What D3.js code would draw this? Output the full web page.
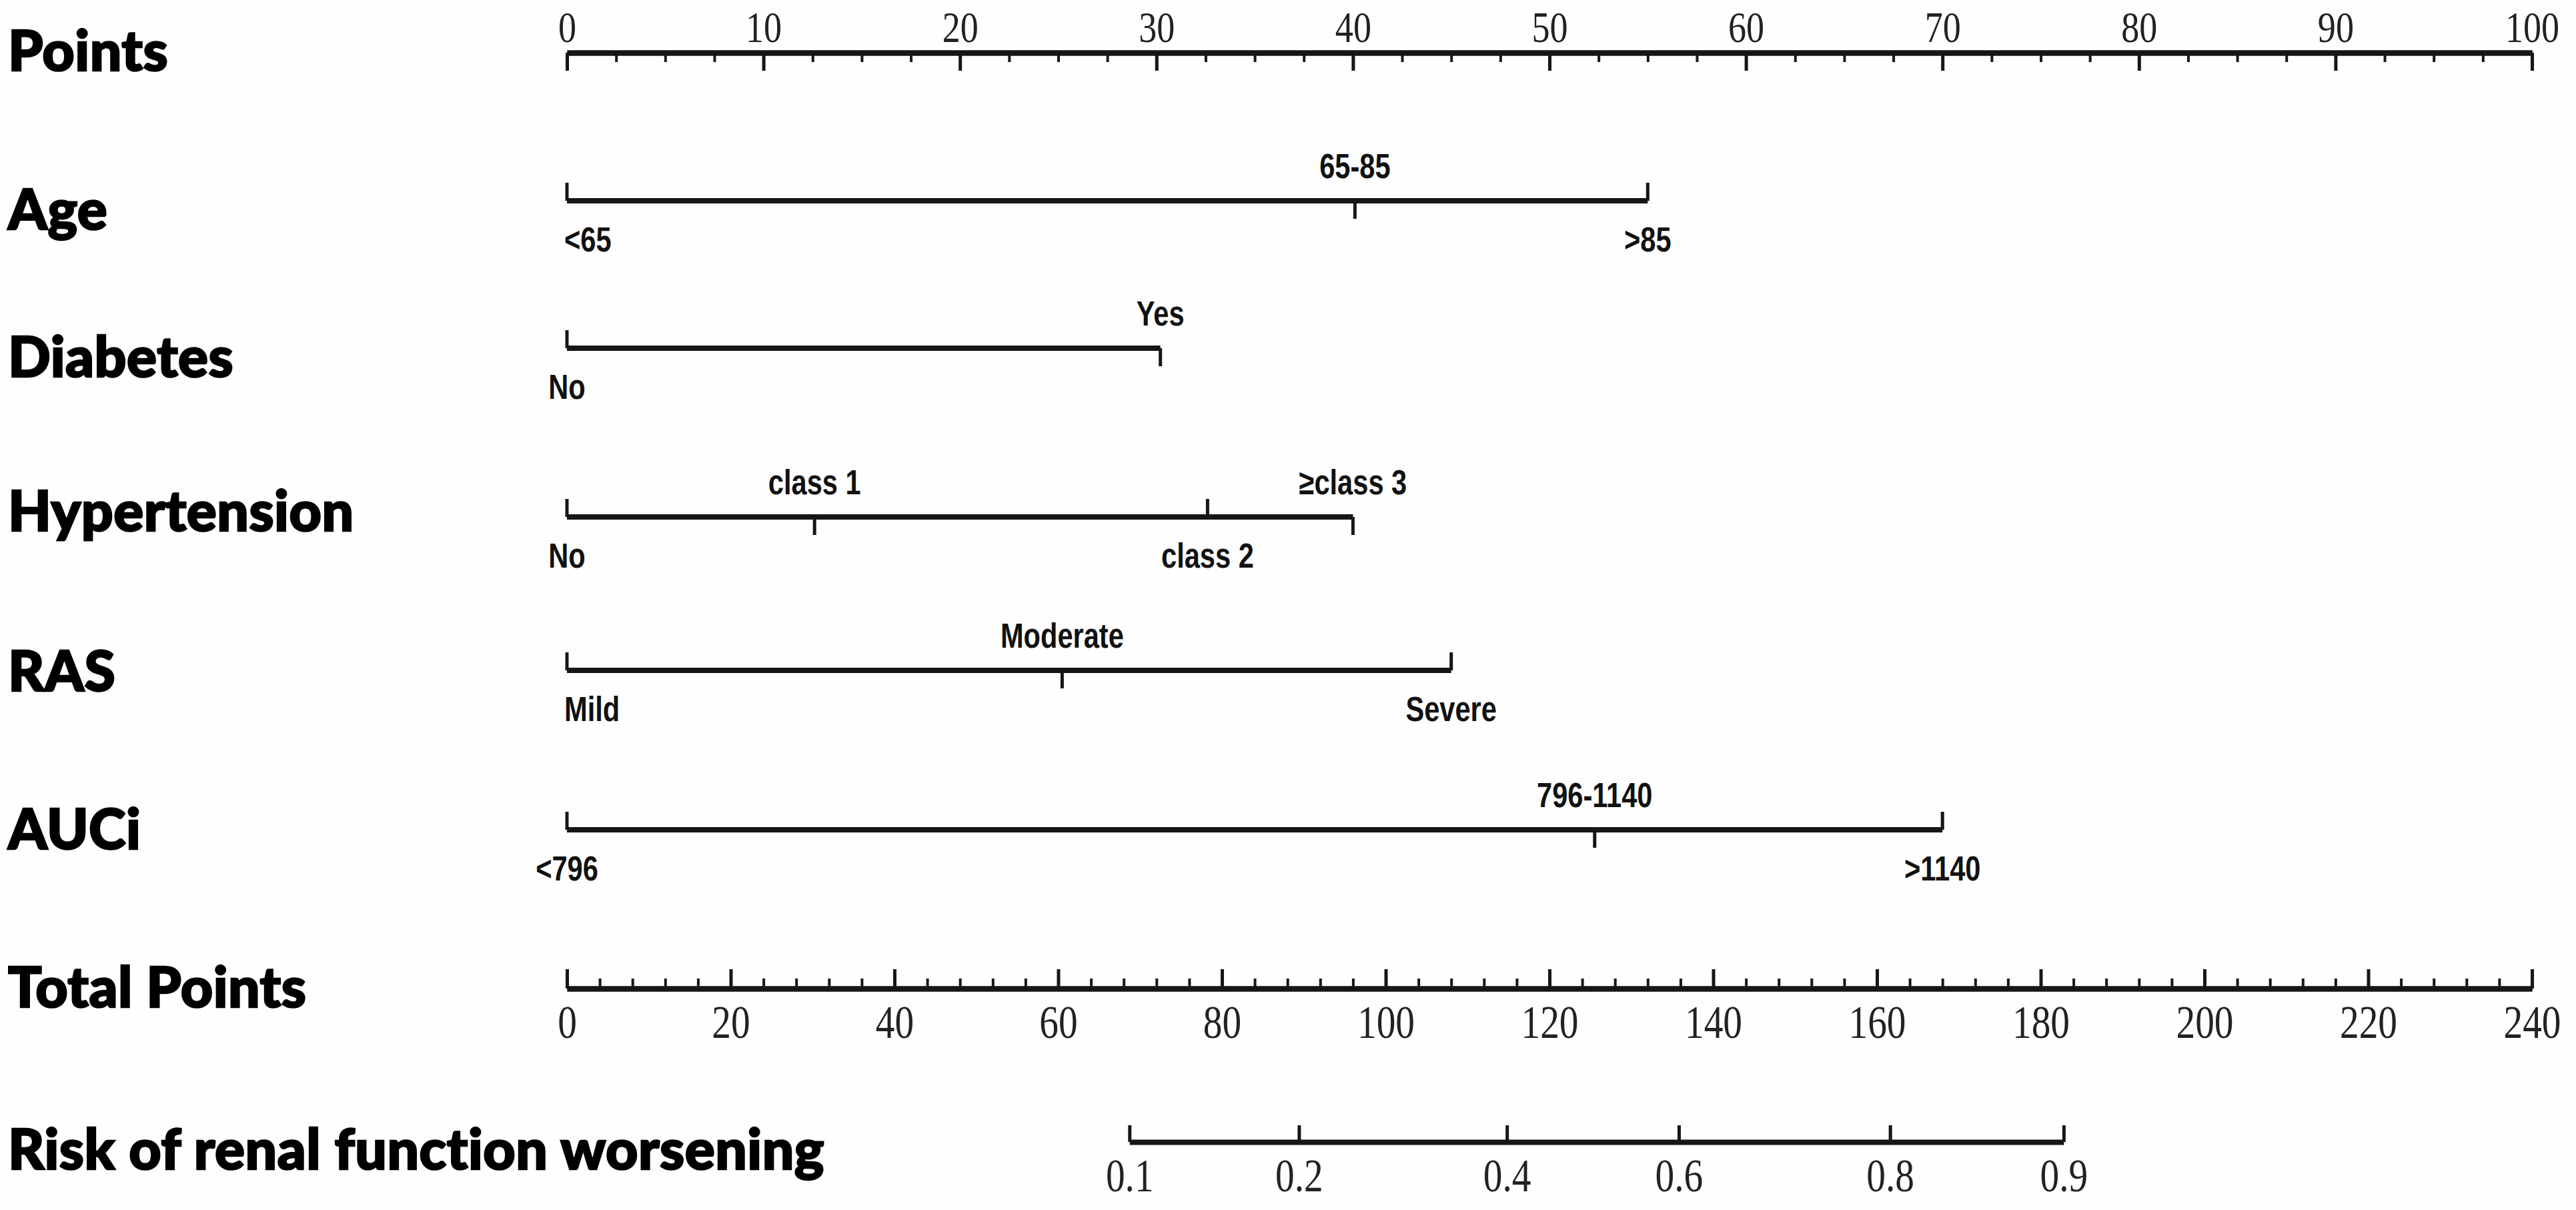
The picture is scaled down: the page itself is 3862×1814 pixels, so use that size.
<!DOCTYPE html>
<html><head><meta charset="utf-8">
<script src="https://cdn.jsdelivr.net/npm/d3@7/dist/d3.min.js"></script>
<style>html,body{margin:0;padding:0;background:#fefefe;overflow:hidden;}</style>
</head><body>
<svg id="chart" width="3862" height="1814"></svg>
<script>
// ---------- data ----------
const pointsTicks = [0,10,20,30,40,50,60,70,80,90,100];
const totalPointsTicks = [0,20,40,60,80,100,120,140,160,180,200,220,240];
const riskTicks = [0.1,0.2,0.4,0.6,0.8,0.9];
const riskTotalPoints = [68.7,89.4,114.8,135.8,161.6,182.8];

const variables = ["Age","Diabetes","Hypertension","RAS","AUCi"];
const ageLevels = ["<65","65-85",">85"];
const agePoints = [0,40.1,55];
const diabetesLevels = ["No","Yes"];
const diabetesPoints = [0,30.2];
const hypertensionLevels = ["No","class 1","class 2","≥class 3"];
const hypertensionPoints = [0,12.6,32.6,40];
const rasLevels = ["Mild","Moderate","Severe"];
const rasPoints = [0,25.2,45];
const auciLevels = ["<796","796-1140",">1140"];
const auciPoints = [0,52.3,70];

const levelTable = {
  Age: [ageLevels, agePoints],
  Diabetes: [diabetesLevels, diabetesPoints],
  Hypertension: [hypertensionLevels, hypertensionPoints],
  RAS: [rasLevels, rasPoints],
  AUCi: [auciLevels, auciPoints]
};

// ---------- layout / style ----------
const W = 3862, H = 1814;
const layout = {
  Points: {axis: 79, title: 106},
  Age: {axis: 301, title: 344},
  Diabetes: {axis: 522, title: 565},
  Hypertension: {axis: 775, title: 796},
  RAS: {axis: 1005, title: 1036},
  AUCi: {axis: 1244, title: 1273},
  Total: {axis: 1482, title: 1510},
  Risk: {axis: 1712, title: 1753}
};
const startAnchored = {"<65": true, "Mild": true};
const ink = "#161616";
const titleFont = "Lato, 'DejaVu Sans', sans-serif";
const numFont = "'Liberation Serif', 'DejaVu Serif', serif";
const lvlFont = "'Liberation Sans Narrow', 'Liberation Sans', Arial, sans-serif";

const svg = d3.select("#chart");
svg.append("rect").attr("width", W).attr("height", H).attr("fill", "#fefefe");

const x = d3.scaleLinear().domain([0,100]).range([850,3796]);
const xt = d3.scaleLinear().domain([0,240]).range([850,3796]);

function styleAxis(g, tickW, fs) {
  g.select(".domain").attr("stroke", ink).attr("stroke-width", 8);
  g.selectAll(".tick line").attr("stroke", ink).attr("stroke-width", tickW);
  g.selectAll(".tick text").attr("fill", "#222").attr("font-family", numFont)
    .attr("font-size", fs || 70).attr("transform", "scale(0.82,1)");
}

// titles
const titles = [["Points","Points"],["Age","Age"],["Diabetes","Diabetes"],["Hypertension","Hypertension"],
  ["RAS","RAS"],["AUCi","AUCi"],["Total","Total Points"],["Risk","Risk of renal function worsening"]];
svg.append("g").selectAll("text").data(titles).join("text")
  .attr("x", 12).attr("y", d => layout[d[0]].title)
  .attr("font-family", titleFont).attr("font-weight", 900).attr("font-size", 84)
  .attr("fill", "#000").attr("stroke", "#000").attr("stroke-width", 2.5)
  .attr("letter-spacing", 0.5).text(d => d[1]);

// Points axis
const minorPts = d3.range(0, 100.01, 2.5).filter(v => v % 10 !== 0);
const gPm = svg.append("g").attr("transform", `translate(0,${layout.Points.axis})`)
  .call(d3.axisTop(x).tickValues(minorPts).tickSize(-14).tickSizeOuter(0).tickFormat(""));
styleAxis(gPm, 4);
const gP = svg.append("g").attr("transform", `translate(0,${layout.Points.axis})`)
  .call(d3.axisTop(x).tickValues(pointsTicks).tickSize(-27).tickSizeOuter(0).tickPadding(16));
styleAxis(gP, 5, 66);

// variable axes
variables.forEach(v => {
  const [levels, pts] = levelTable[v];
  const y0 = layout[v].axis;
  const g = svg.append("g").attr("transform", `translate(0,${y0})`);
  g.append("line").attr("x1", x(0)).attr("x2", x(d3.max(pts))).attr("y1", 0).attr("y2", 0)
    .attr("stroke", ink).attr("stroke-width", 8);
  const items = levels.map((l, i) => ({label: l, p: pts[i], below: i % 2 === 0}));
  g.selectAll("line.tk").data(items).join("line").attr("class", "tk")
    .attr("x1", d => x(d.p)).attr("x2", d => x(d.p))
    .attr("y1", 0).attr("y2", d => d.below ? -27 : 27)
    .attr("stroke", ink).attr("stroke-width", 5);
  g.selectAll("text").data(items).join("text")
    .attr("transform", d => `translate(${startAnchored[d.label] ? x(d.p) - 4 : x(d.p)},${d.below ? 58 : -52}) scale(0.8,1)`)
    .attr("dominant-baseline", "central")
    .attr("text-anchor", d => startAnchored[d.label] ? "start" : "middle")
    .attr("font-family", lvlFont).attr("font-weight", "bold").attr("font-size", 52)
    .attr("fill", "#111").text(d => d.label);
});

// Total points axis
const minorTot = d3.range(0, 240.01, 4).filter(v => v % 20 !== 0);
const gTm = svg.append("g").attr("transform", `translate(0,${layout.Total.axis})`)
  .call(d3.axisBottom(xt).tickValues(minorTot).tickSize(-15).tickSizeOuter(0).tickFormat(""));
styleAxis(gTm, 4);
const gT = svg.append("g").attr("transform", `translate(0,${layout.Total.axis})`)
  .call(d3.axisBottom(xt).tickValues(totalPointsTicks).tickSize(-29).tickSizeOuter(0).tickPadding(24));
styleAxis(gT, 5);

// Risk axis
const xr = d3.scaleLinear()
  .domain([riskTotalPoints[0], riskTotalPoints[riskTotalPoints.length - 1]])
  .range([xt(riskTotalPoints[0]), xt(riskTotalPoints[riskTotalPoints.length - 1])]);
const gR = svg.append("g").attr("transform", `translate(0,${layout.Risk.axis})`)
  .call(d3.axisBottom(xr).tickValues(riskTotalPoints).tickSize(-25).tickSizeOuter(0)
    .tickPadding(24).tickFormat((d, i) => riskTicks[i]));
styleAxis(gR, 5);
</script>
</body></html>
